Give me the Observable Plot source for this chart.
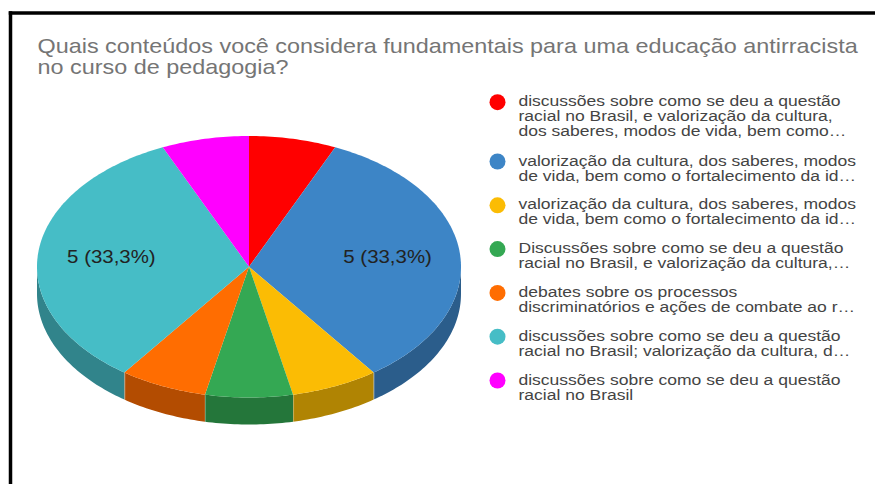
<!DOCTYPE html>
<html><head><meta charset="utf-8">
<script src="https://cdn.jsdelivr.net/npm/d3@7"></script>
<script src="https://cdn.jsdelivr.net/npm/@observablehq/plot@0.6"></script>
<style>html,body{margin:0;background:#fff;overflow:hidden}</style>
</head><body><div id="chart"></div>
<script>
const title = "Quais conteúdos você considera fundamentais para uma educação antirracista\nno curso de pedagogia?";
const labels = [
  "discussões sobre como se deu a questão\nracial no Brasil, e valorização da cultura,\ndos saberes, modos de vida, bem como…",
  "valorização da cultura, dos saberes, modos\nde vida, bem como o fortalecimento da id…",
  "valorização da cultura, dos saberes, modos\nde vida, bem como o fortalecimento da id…",
  "Discussões sobre como se deu a questão\nracial no Brasil, e valorização da cultura,…",
  "debates sobre os processos\ndiscriminatórios e ações de combate ao r…",
  "discussões sobre como se deu a questão\nracial no Brasil; valorização da cultura, d…",
  "discussões sobre como se deu a questão\nracial no Brasil"
];
const values = [1, 5, 1, 1, 1, 5, 1];
const colors = ["#ff0000", "#3d85c6", "#fbbc04", "#34a853", "#ff6d01", "#46bdc6", "#ff00ff"];

const mL = 10, mT = 12.5, depth = 27 / 130.5, total = d3.sum(values), font = "Liberation Sans, Arial, sans-serif";
const shade = c => { const r = d3.rgb(c); return d3.rgb(r.r * .7, r.g * .7, r.b * .7).formatHex(); };
const arcs = d3.pie().sort(null).startAngle(0).endAngle(2 * Math.PI)(values);
const samples = (a, b) => [...d3.range(a, b, Math.PI / 180), b];
// the reference picture is stretched horizontally: widen glyphs without changing their height
const widen = sx => (index, scales, values, dims, context, next) => {
  const g = next(index, scales, values, dims, context);
  g.querySelectorAll("text").forEach(t => t.setAttribute("transform", `${t.getAttribute("transform") || ""} scale(${sx},1)`));
  return g;
};

const tops = arcs.flatMap((s, i) => samples(s.startAngle, s.endAngle).map(t => ({i, x: Math.sin(t), y: Math.cos(t), color: colors[i]})));
const walls = arcs.flatMap((s, i) => {
  const a = Math.max(s.startAngle, Math.PI / 2), b = Math.min(s.endAngle, 3 * Math.PI / 2);
  return a < b ? samples(a, b).map(t => ({i, x: Math.sin(t), y: Math.cos(t), color: shade(colors[i])})) : [];
});
const seams = arcs.map(s => s.endAngle).filter(t => t > Math.PI / 2 && t < 3 * Math.PI / 2).map(t => ({x: Math.sin(t), y: Math.cos(t)}));
const pct = arcs.filter(s => s.value / total > 0.1).map(s => {
  const t = (s.startAngle + s.endAngle) / 2;
  return {x: .655 * Math.sin(t), y: .655 * Math.cos(t), text: `${s.value} (${(s.value / total * 100).toFixed(1).replace(".", ",")}%)`};
});

let yy = 101.7;
const legendMarks = labels.flatMap((text, i) => {
  const y = yy; yy += text.split("\n").length * 15.5 + 12.8;
  return [
    Plot.dot([i], {frameAnchor: "top-left", dx: 497 - mL, dy: y - mT, r: 8, fill: colors[i]}),
    Plot.text([text], {frameAnchor: "top-left", dx: 518 - mL, dy: y - mT - 6.5, text: d => d, fontSize: 14.5, lineHeight: 15 / 14.5, fill: "#444444", textAnchor: "start", lineAnchor: "top", render: widen(1.208)})
  ];
});

const plot = Plot.plot({
  width: 875, height: 484, marginLeft: mL, marginTop: mT, marginRight: 0, marginBottom: 0,
  style: {fontFamily: font, background: "#fff"},
  x: {domain: [-1, 1], range: [37, 461], axis: null},
  y: {domain: [-1, 1], range: [397.5, 136], axis: null},
  marks: [
    Plot.frame({anchor: "top", stroke: "#000", strokeWidth: 3.5}),
    Plot.frame({anchor: "left", stroke: "#000", strokeWidth: 3.5}),
    Plot.text([title], {frameAnchor: "top-left", dx: 37 - mL, dy: 38 - mT, text: d => d, fontSize: 20.5, lineHeight: 21 / 20.5, fill: "#757575", textAnchor: "start", lineAnchor: "top", render: widen(1.141)}),
    Plot.area(walls, {x1: "x", y1: "y", x2: "x", y2: d => d.y - depth, z: "i", fill: "color", curve: "linear"}),
    Plot.link(seams, {x1: "x", y1: "y", x2: "x", y2: d => d.y - depth, stroke: "#fff", strokeOpacity: .3, strokeWidth: 1}),
    Plot.area(tops, {x1: () => 0, y1: () => 0, x2: "x", y2: "y", z: "i", fill: "color", curve: "linear"}),
    Plot.text(pct, {x: "x", y: "y", text: "text", dy: -1, fontSize: 18, fill: "#222222", render: widen(1.135)}),
    ...legendMarks
  ]
});
document.getElementById("chart").append(plot);
</script></body></html>
